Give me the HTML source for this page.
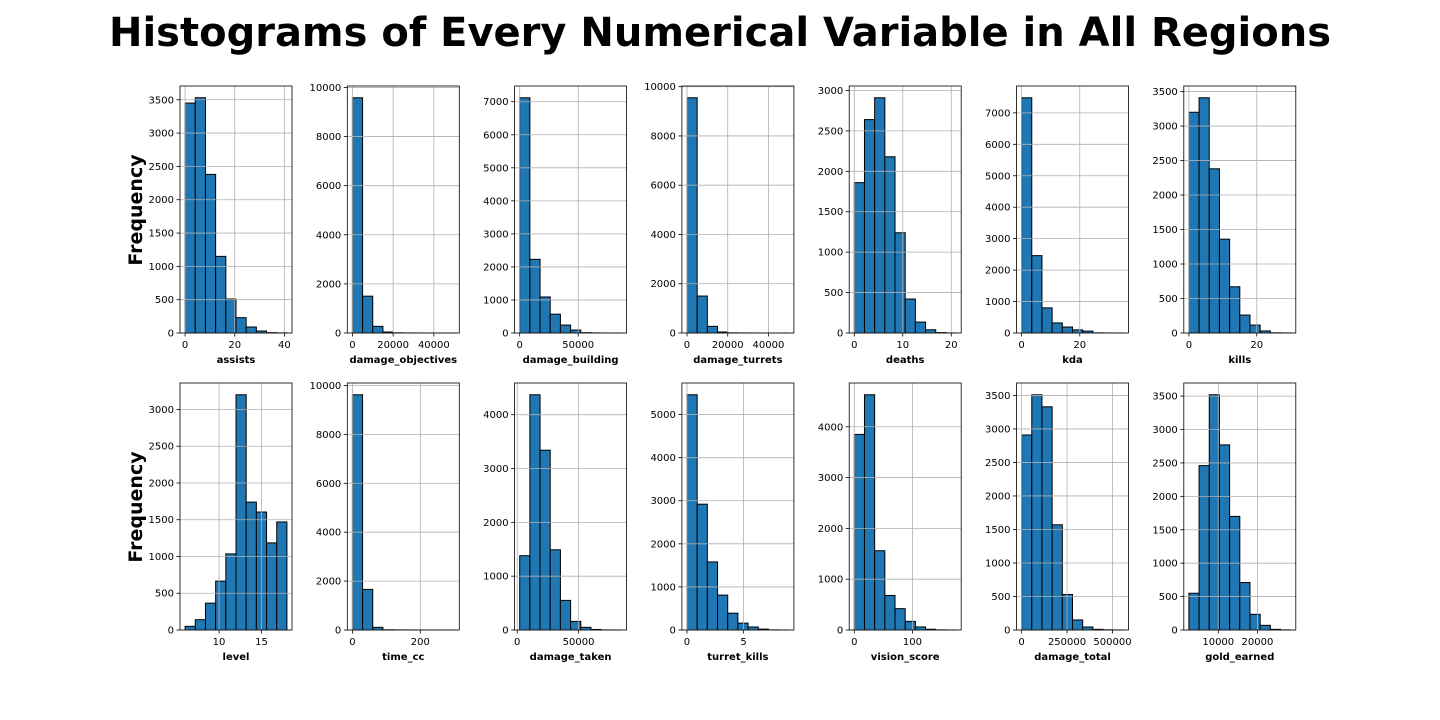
<!DOCTYPE html>
<html><head><meta charset="utf-8"><style>
body{margin:0;background:#fff;}
svg{display:block;font-family:"DejaVu Sans","Liberation Sans",sans-serif;}
</style></head><body>
<svg id="fig" width="1440" height="720" xmlns="http://www.w3.org/2000/svg">
<text x="720" y="46" text-anchor="middle" font-size="40" font-weight="bold">Histograms of Every Numerical Variable in All Regions</text>
<text transform="translate(142,210) rotate(-90)" text-anchor="middle" font-size="19" font-weight="bold">Frequency</text>
<text transform="translate(142,507) rotate(-90)" text-anchor="middle" font-size="19" font-weight="bold">Frequency</text>
</svg>
<script>
const names=["assists","damage_objectives","damage_building","damage_turrets","deaths","kda","kills","level","time_cc","damage_taken","turret_kills","vision_score","damage_total","gold_earned"];
const dataMin=[0,0,0,0,0,0,0,6,0,2000,0,0,0,2500];
const dataMax=[41,50000,87000,50000,21,35,30,18,300,85000,9,175,560000,28500];
const counts=[
[3450,3530,2380,1150,510,230,90,30,5,2],
[9580,1500,270,40,8,3,2,1,1,1],
[7120,2230,1090,570,240,90,10,3,1,1],
[9550,1500,270,40,8,3,2,1,1,1],
[1860,2640,2910,2180,1240,420,135,40,5,1],
[7480,2460,800,320,190,100,60,5,2,1],
[3200,3410,2380,1360,670,260,115,30,3,1],
[50,140,365,665,1035,3200,1740,1605,1185,1470],
[9620,1660,110,10,5,3,2,1,1,1],
[1380,4370,3340,1490,550,160,50,10,2,1],
[5460,2920,1580,810,390,160,70,20,3,1],
[3850,4630,1560,680,420,170,60,15,3,1],
[2910,3510,3330,1570,530,150,45,10,3,1],
[550,2460,3520,2770,1700,710,235,70,10,2]];
const xTicks=[[0,20,40],[0,20000,40000],[0,50000],[0,20000,40000],[0,10,20],[0,20],[0,20],[10,15],[0,200],[0,50000],[0,5],[0,100],[0,250000,500000],[10000,20000]];
const yStep=[500,2000,1000,2000,500,1000,500,500,2000,1000,1000,1000,500,500];

const svg=document.getElementById('fig');
const NS='http://www.w3.org/2000/svg';
function mk(tag,attrs,parent){const e=document.createElementNS(NS,tag);for(const k in attrs)e.setAttribute(k,attrs[k]);parent.appendChild(e);return e;}
names.forEach((nm,i)=>{
  const col=i%7,row=Math.floor(i/7);
  const L=180+col*167.3,W=112,T=row?383:86,H=247,B=T+H;
  const g=mk('g',{},svg);
  
  
  const span=dataMax[i]-dataMin[i];
  const x0=dataMin[i]-0.05*span,x1=dataMax[i]+0.05*span;
  const c=counts[i];const ymax=Math.max(...c)*1.05;
  const xs=v=>L+(v-x0)/(x1-x0)*W;
  const ys=v=>B-v/ymax*H;
  const bw=span/c.length;
  c.forEach((v,j)=>{
    const r=mk('rect',{x:xs(dataMin[i]+j*bw),y:ys(v),width:xs(dataMin[i]+(j+1)*bw)-xs(dataMin[i]+j*bw),height:B-ys(v),fill:'#1f77b4',stroke:'#000','stroke-width':1},g);
    
    
  });
  xTicks[i].forEach(t=>{
    const x=xs(t);
    mk('line',{x1:x,x2:x,y1:T,y2:B,stroke:'#b0b0b0','stroke-width':0.8},g);
    mk('line',{x1:x,x2:x,y1:B,y2:B+3.5,stroke:'#000','stroke-width':0.8},g);
    const tx=mk('text',{x:x,y:B+15,'text-anchor':'middle','font-size':10},g);tx.textContent=t;
    
    
  });
  for(let t=0;t<=ymax;t+=yStep[i]){
    const y=ys(t);
    mk('line',{x1:L,x2:L+W,y1:y,y2:y,stroke:'#b0b0b0','stroke-width':0.8},g);
    mk('line',{x1:L-3.5,x2:L,y1:y,y2:y,stroke:'#000','stroke-width':0.8},g);
    const tx=mk('text',{x:L-6,y:y+3.5,'text-anchor':'end','font-size':10},g);tx.textContent=t;
    
    
  }
  mk('rect',{x:L,y:T,width:W,height:H,fill:'none',stroke:'#000','stroke-width':0.8},g);
  const lb=mk('text',{x:L+W/2,y:B+30,'text-anchor':'middle','font-size':10,'font-weight':'bold'},g);lb.textContent=nm;
  
  
});
</script>
</body></html>
